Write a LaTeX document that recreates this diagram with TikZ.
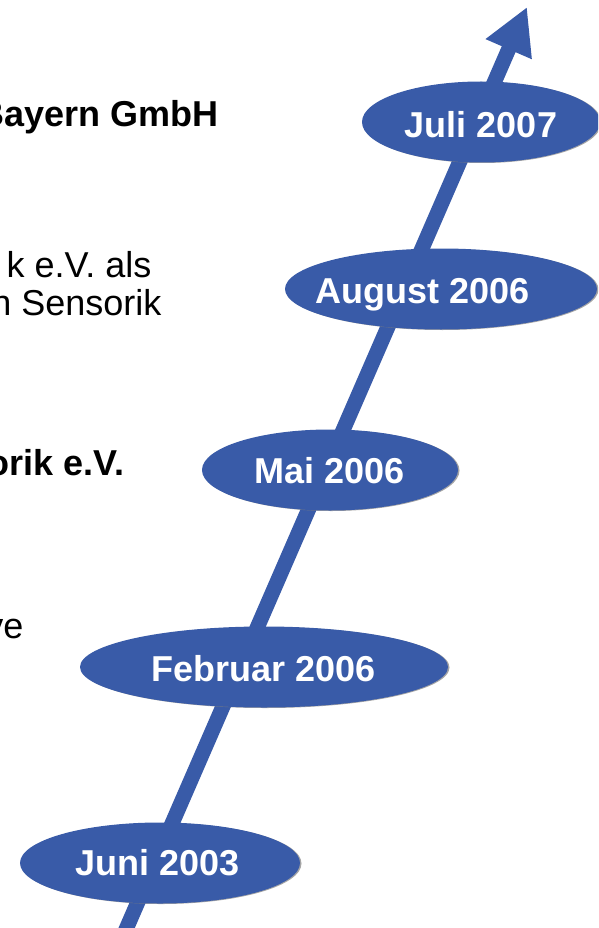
\documentclass[tikz,border=0pt]{standalone}
\usepackage{fontspec}
\setmainfont{Liberation Sans}
\usetikzlibrary{arrows.meta,shapes.geometric,shadows}
\definecolor{zeitblau}{RGB}{57,91,168}

\begin{document}
\begin{tikzpicture}[x=1pt,y=1pt,font=\fontsize{36}{38}\selectfont,
  oval/.style={ellipse,fill=zeitblau,inner sep=0pt,
    drop shadow={shadow xshift=1.5pt,shadow yshift=-.5pt,fill=gray,opacity=.7}},
  datum/.style={anchor=base,text=white,font=\fontsize{36}{38}\selectfont\bfseries},
  notiz/.style={anchor=base east}]
  \useasboundingbox (0,0) rectangle (598,-928);
  \clip (0,0) rectangle (598,-928);
  \fill[white] (0,0) rectangle (598,-928);
  % zeitachse
  \coordinate (start) at (124,-934);
  \coordinate (ziel) at (527,-7);
  \draw[zeitblau,line width=15pt,-{Triangle[length=46pt,width=47pt]}] (start) -- (ziel);
  \foreach\n/\x/\y/\rx/\tx/\ty/\t in {juni/160/863/140/158/875/Juni 2003,
      feb/264/667/184/264/681/Februar 2006, mai/330/470/128/330/483/Mai 2006,
      aug/441/289/156/423/303/August 2006, juli/481/122/119/481/138/Juli 2007} {
    \node[oval,minimum width=2*\rx,minimum height=81] (o\n) at (\x,-\y) {};
    \node[datum] (t\n) at (\tx,-\ty) {\t};
  }
  \node[notiz,font=\fontsize{36}{38}\selectfont\bfseries] (n1) at (222,-127) {Bayern GmbH};
  \node[notiz] (n2) at (155,-277) {k e.V. als};
  \node[notiz] (n3) at (165,-315) {n Sensorik};
  \node[notiz,font=\fontsize{36}{38}\selectfont\bfseries] (n4) at (128,-475) {orik e.V.};
  \node[notiz] (n5) at (27,-638) {ve};
\end{tikzpicture}
\end{document}
